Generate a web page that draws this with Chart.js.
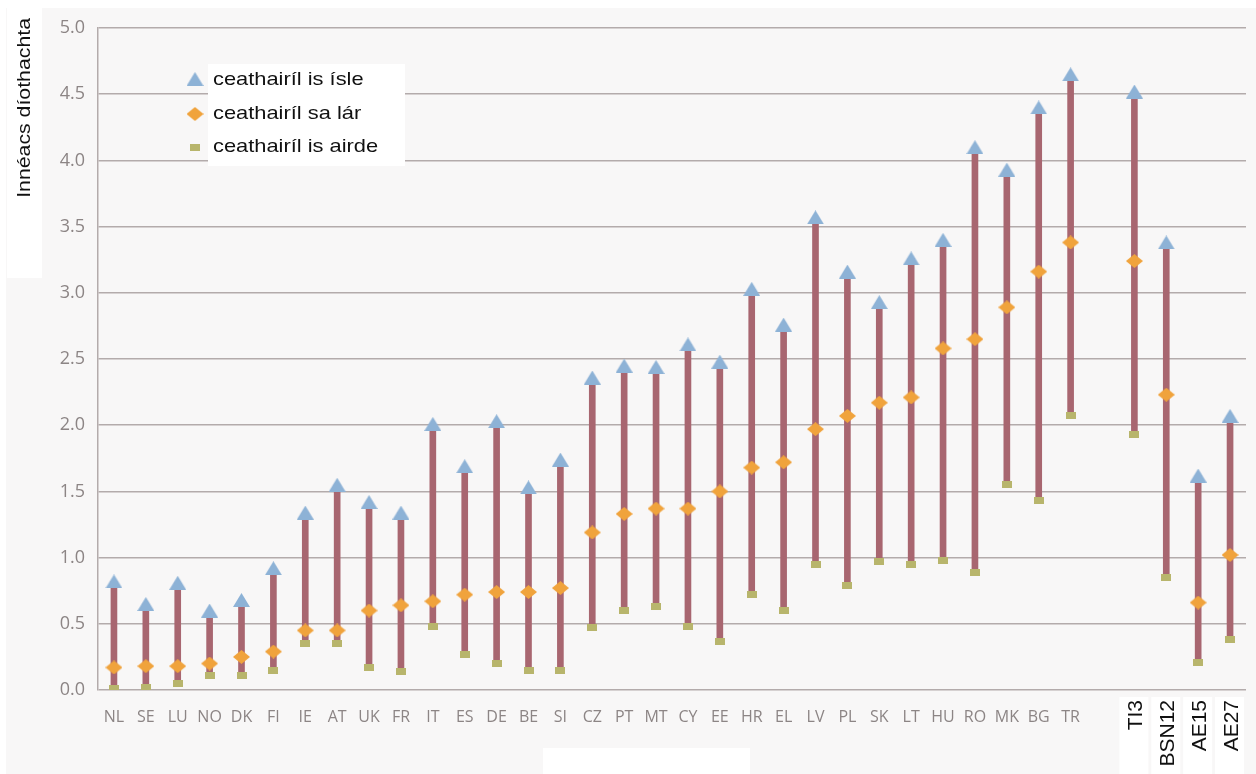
<!DOCTYPE html>
<html>
<head>
<meta charset="utf-8">
<script src="https://cdn.jsdelivr.net/npm/chart.js@4.4.1/dist/chart.umd.min.js"></script>
<style>
  html, body { margin: 0; padding: 0; background: #ffffff; overflow: hidden; }
  #wrap { width: 1256px; height: 774px; position: relative; }
</style>
</head>
<body>
<div id="wrap"><canvas id="chart" width="1256" height="774"></canvas></div>
<script>
// Categories (one empty slot separates the country group from the aggregates)
const countries = ["NL","SE","LU","NO","DK","FI","IE","AT","UK","FR","IT","ES","DE","BE","SI",
                   "CZ","PT","MT","CY","EE","HR","EL","LV","PL","SK","LT","HU","RO","MK","BG","TR",
                   "", "TI3","BSN12","AE15","AE27"];
const rotatedLabels = ["TI3","BSN12","AE15","AE27"];

// ceathairíl is ísle (triangles)
const lowQuartile = [0.82,0.65,0.81,0.60,0.68,0.92,1.34,1.55,1.42,1.34,2.01,1.69,2.03,1.53,1.74,
                     2.36,2.45,2.44,2.61,2.48,3.03,2.76,3.57,3.16,2.93,3.26,3.40,4.10,3.93,4.40,4.65,
                     null,4.52,3.38,1.62,2.07];
// ceathairíl sa lár (diamonds)
const midQuartile = [0.17,0.18,0.18,0.20,0.25,0.29,0.45,0.45,0.60,0.64,0.67,0.72,0.74,0.74,0.77,
                     1.19,1.33,1.37,1.37,1.50,1.68,1.72,1.97,2.07,2.17,2.21,2.58,2.65,2.89,3.16,3.38,
                     null,3.24,2.23,0.66,1.02];
// ceathairíl is airde (squares)
const highQuartile = [0.01,0.02,0.05,0.11,0.11,0.15,0.35,0.35,0.17,0.14,0.48,0.27,0.20,0.15,0.15,
                      0.47,0.60,0.63,0.48,0.37,0.72,0.60,0.95,0.79,0.97,0.95,0.98,0.89,1.55,1.43,2.07,
                      null,1.93,0.85,0.21,0.38];

const yTicks = [0, 0.5, 1, 1.5, 2, 2.5, 3, 3.5, 4, 4.5, 5];

const rangeData = lowQuartile.map((v, i) => v === null ? null : [highQuartile[i], v]);

const BLUE = "#8db2d6";
const ORANGE = "#f0a33c";
const OLIVE = "#b8b56c";
const MAROON = "#a86670";
const GRID = "#b3abab";
const TICK = "#8c8585";

// marker images, a bit wider than tall like in the original
function makeMarker(w, h, color, shape) {
  const c = document.createElement("canvas");
  c.width = w; c.height = h;
  const g = c.getContext("2d");
  g.fillStyle = color;
  g.beginPath();
  if (shape === "tri") {
    g.moveTo(w / 2, 0); g.lineTo(w, h); g.lineTo(0, h);
  } else if (shape === "dia") {
    g.moveTo(w / 2, 0); g.lineTo(w, h / 2); g.lineTo(w / 2, h); g.lineTo(0, h / 2);
  } else {
    g.rect(0, 0, w, h);
  }
  g.closePath();
  g.fill();
  return c;
}
const triMarker = makeMarker(17, 14, BLUE, "tri");
const diaMarker = makeMarker(17, 14, ORANGE, "dia");
const sqMarker = makeMarker(10, 7, OLIVE, "sq");

// background, white patches, axis title, legend and rotated aggregate labels
const decorPlugin = {
  id: "decor",
  beforeDraw(chart) {
    const ctx = chart.ctx;
    ctx.save();
    ctx.fillStyle = "#ffffff";
    ctx.fillRect(0, 0, chart.width, chart.height);
    ctx.fillStyle = "#f8f7f7";
    ctx.fillRect(6, 8, chart.width - 6, chart.height - 8);
    ctx.fillStyle = "#ffffff";
    ctx.fillRect(543, 748, 207, 26);
    ctx.restore();
  },
  afterDraw(chart) {
    const ctx = chart.ctx;
    const xs = chart.scales.x;
    ctx.save();
    // y axis title
    ctx.fillStyle = "#ffffff";
    ctx.fillRect(7, 5, 35, 273);
    ctx.fillStyle = "#111111";
    ctx.font = "19px 'Liberation Sans', Arial, sans-serif";
    ctx.translate(30, 18);
    ctx.rotate(-Math.PI / 2);
    ctx.scale(1.12, 1);
    ctx.textAlign = "right";
    ctx.textBaseline = "alphabetic";
    ctx.fillText("Innéacs díothachta", 0, 0);
    ctx.restore();

    // rotated aggregate labels in white boxes
    ctx.save();
    ctx.font = "21px 'Liberation Sans', Arial, sans-serif";
    rotatedLabels.forEach(lbl => {
      const x = xs.getPixelForValue(countries.indexOf(lbl));
      ctx.fillStyle = "#ffffff";
      ctx.fillRect(x - 15, 697, 29, 77);
      ctx.save();
      ctx.translate(x + 7.5, 700);
      ctx.rotate(-Math.PI / 2);
      ctx.textAlign = "right";
      ctx.textBaseline = "alphabetic";
      ctx.fillStyle = "#111111";
      ctx.fillText(lbl, 0, 0);
      ctx.restore();
    });
    ctx.restore();

    // legend
    ctx.save();
    ctx.fillStyle = "#ffffff";
    ctx.fillRect(208, 64, 197, 102);
    const items = [chart.data.datasets[0], chart.data.datasets[1], chart.data.datasets[2]];
    const markerY = [79, 114, 147];
    const baseY = [85, 119, 152];
    ctx.font = "19px 'Liberation Sans', Arial, sans-serif";
    ctx.textBaseline = "alphabetic";
    items.forEach((ds, i) => {
      const img = ds.pointStyle;
      ctx.drawImage(img, 195 - img.width / 2, markerY[i] - img.height / 2);
      ctx.save();
      ctx.translate(213, baseY[i]);
      ctx.scale(1.15, 1);
      ctx.fillStyle = "#111111";
      ctx.fillText(ds.label, 0, 0);
      ctx.restore();
    });
    ctx.restore();
  }
};

new Chart(document.getElementById("chart"), {
  type: "bar",
  data: {
    labels: countries,
    datasets: [
      { type: "line", label: "ceathairíl is ísle", data: lowQuartile, showLine: false,
        pointStyle: triMarker, pointRadius: 9, order: 1 },
      { type: "line", label: "ceathairíl sa lár", data: midQuartile, showLine: false,
        pointStyle: diaMarker, pointRadius: 8, order: 2 },
      { type: "line", label: "ceathairíl is airde", data: highQuartile, showLine: false,
        pointStyle: sqMarker, pointRadius: 5, order: 3 },
      { type: "bar", label: "raon", data: rangeData, barThickness: 6,
        backgroundColor: MAROON, borderWidth: 0, order: 4 }
    ]
  },
  options: {
    responsive: false,
    animation: false,
    devicePixelRatio: 1,
    layout: { padding: { left: 0, right: 5, top: 28, bottom: 0 } },
    plugins: { legend: { display: false }, tooltip: { enabled: false } },
    scales: {
      x: {
        grid: { display: false },
        border: { display: false },
        ticks: {
          autoSkip: false, maxRotation: 0, minRotation: 0, padding: 10,
          color: TICK, font: { family: "'Open Sans', sans-serif", size: 16 },
          callback: (v, i) => rotatedLabels.includes(countries[i]) ? "" : countries[i]
        },
        afterFit(scale) { scale.height = 84; }
      },
      y: {
        min: 0, max: 5,
        afterBuildTicks(scale) { scale.ticks = yTicks.map(v => ({ value: v })); },
        grid: { color: GRID, lineWidth: 1.5, drawTicks: false },
        border: { display: true, color: GRID, width: 1.5 },
        ticks: {
          padding: 13, color: TICK, font: { family: "'Open Sans', sans-serif", size: 18 },
          callback: v => v.toFixed(1)
        },
        afterFit(scale) { scale.width = 98; }
      }
    }
  },
  plugins: [decorPlugin]
});
</script>
</body>
</html>
